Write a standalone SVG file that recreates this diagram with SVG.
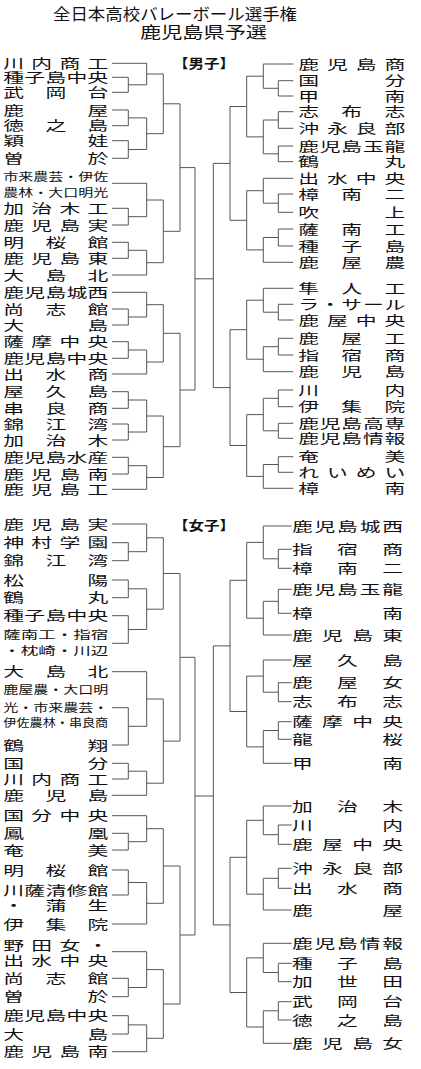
<svg xmlns="http://www.w3.org/2000/svg" width="421" height="1069" viewBox="0 0 421 1069">
<style>
.t{font-family:"Noto Sans CJK JP","Noto Sans CJK SC",sans-serif;font-size:13px;fill:#111}
.s{font-size:11px}
.s2{font-size:11.5px}
.h{font-family:"Noto Sans CJK JP","Noto Sans CJK SC",sans-serif;fill:#111}
.b{font-weight:700;font-size:13px}
.c path{fill:none;stroke:#555;stroke-width:1}
</style>
<rect width="421" height="1069" fill="#fff"/>
<g id="title">
<text class="h" x="53" y="19.5" font-size="16" textLength="244" lengthAdjust="spacingAndGlyphs">全日本高校バレーボール選手権</text>
<text class="h" x="140" y="37.5" font-size="16" textLength="127" lengthAdjust="spacingAndGlyphs">鹿児島県予選</text>
</g>
<g id="label-boys"><text class="h b" x="173" y="68" textLength="62" lengthAdjust="spacingAndGlyphs">【男子】</text></g>
<g id="label-girls"><text class="h b" x="173" y="529.5" textLength="62" lengthAdjust="spacingAndGlyphs">【女子】</text></g>

<g class="c" id="connectors">
<path d="M112,63.3H146.7 M112,77.3H128.3V92.3H112 M128.3,84.8H146.7 M146.7,63.3V84.8 M146.7,74H163.3"/>
<path d="M112,110H128.3V125.7H112 M128.3,117.9H146.7 M112,140.7H128.3V158.3H112 M128.3,149.5H146.7 M146.7,117.9V149.5 M146.7,133.7H163.3 M163.3,74V133.7 M163.3,103.8H180"/>
<path d="M112,183.3H146.7 M112,208.3H128.3V225H112 M128.3,216.7H146.7 M146.7,183.3V216.7 M146.7,200H163.3"/>
<path d="M112,242.3H128.3V258.3H112 M128.3,250.3H146.7 M112,275H146.7 M146.7,250.3V275 M146.7,262.7H163.3 M163.3,200V262.7 M163.3,231.3H180 M180,103.8V231.3 M180,167.6H195"/>
<path d="M112,292.3H146.7 M112,309H128.3V325H112 M128.3,317H146.7 M146.7,292.3V317 M146.7,304.7H163.3"/>
<path d="M112,341.7H128.3V358.3H112 M128.3,350H146.7 M112,374H146.7 M146.7,350V374 M146.7,362H163.3 M163.3,304.7V362 M163.3,333.3H180"/>
<path d="M112,391.7H128.3V408.3H112 M128.3,400H146.7 M112,424H128.3V440H112 M128.3,432H146.7 M146.7,400V432 M146.7,416H163.3"/>
<path d="M112,457.3H128.3V474H112 M128.3,465.7H146.7 M112,489.3H146.7 M146.7,465.7V489.3 M146.7,477.5H163.3 M163.3,416V477.5 M163.3,446.7H180 M180,333.3V446.7 M180,390H195"/>
<path d="M195,167.6V390 M195,278.8H213.3"/>

<path d="M293.3,64H263.3 M293.3,80.7H278.3V96H293.3 M278.3,88.3H263.3 M263.3,64V88.3 M263.3,76.2H246.7"/>
<path d="M293.3,111.7H278.3V128.3H293.3 M278.3,120H263.3 M293.3,146H278.3V161.7H293.3 M278.3,153.8H263.3 M263.3,120V153.8 M263.3,136.9H246.7 M246.7,76.2V136.9 M246.7,106.5H230"/>
<path d="M293.3,178.3H263.3 M293.3,194H278.3V212.3H293.3 M278.3,203.2H263.3 M263.3,178.3V203.2 M263.3,190.7H246.7"/>
<path d="M293.3,229H278.3V246H293.3 M278.3,237.5H263.3 M293.3,262.3H263.3 M263.3,237.5V262.3 M263.3,249.9H246.7 M246.7,190.7V249.9 M246.7,220.3H230 M230,106.5V220.3 M230,163.4H213.3"/>
<path d="M293.3,288.3H263.3 M293.3,304.3H278.3V320H293.3 M278.3,312.2H263.3 M263.3,288.3V312.2 M263.3,300.2H246.7"/>
<path d="M293.3,338.3H278.3V355H293.3 M278.3,346.7H263.3 M293.3,371.7H263.3 M263.3,346.7V371.7 M263.3,359.2H246.7 M246.7,300.2V359.2 M246.7,329.7H230"/>
<path d="M293.3,390H278.3V406.7H293.3 M278.3,398.3H263.3 M293.3,423.3H278.3V438.3H293.3 M278.3,430.8H263.3 M263.3,398.3V430.8 M263.3,414.6H246.7"/>
<path d="M293.3,456.7H278.3V472.3H293.3 M278.3,464.5H263.3 M293.3,488.3H263.3 M263.3,464.5V488.3 M263.3,476.4H246.7 M246.7,414.6V476.4 M246.7,445.5H230 M230,329.7V445.5 M230,387.6H213.3"/>
<path d="M213.3,163.4V387.6"/>

<path d="M112,524H146.7 M112,542.7H128.3V560.7H112 M128.3,551.7H146.7 M146.7,524V551.7 M146.7,537.8H163.3"/>
<path d="M112,580H128.3V597.7H112 M128.3,588.8H146.7 M112,615.7H128.3V643.3H112 M128.3,629.5H146.7 M146.7,588.8V629.5 M146.7,609.2H163.3 M163.3,537.8V609.2 M163.3,573.5H180"/>
<path d="M112,671.7H146.7 M112,707.7H128.3V745H112 M128.3,726.3H146.7 M146.7,671.7V726.3 M146.7,699H163.3"/>
<path d="M112,763.3H128.3V779H112 M128.3,771.2H146.7 M112,795.3H146.7 M146.7,771.2V795.3 M146.7,783.2H163.3 M163.3,699V783.2 M163.3,741.1H180 M180,573.5V741.1 M180,657.3H195"/>
<path d="M112,815.7H146.7 M112,833.3H128.3V850H112 M128.3,841.7H146.7 M146.7,815.7V841.7 M146.7,828.7H163.3"/>
<path d="M112,870H128.3V895H112 M128.3,882.5H146.7 M112,924H146.7 M146.7,882.5V924 M146.7,903.3H163.3 M163.3,828.7V903.3 M163.3,866H180"/>
<path d="M112,951.7H146.7 M112,978.3H128.3V996.7H112 M128.3,987.5H146.7 M146.7,951.7V987.5 M146.7,969.6H163.3"/>
<path d="M112,1015.7H128.3V1034H112 M128.3,1024.9H146.7 M112,1051.7H146.7 M146.7,1024.9V1051.7 M146.7,1038.3H163.3 M163.3,969.6V1038.3 M163.3,1004H180 M180,866V1004 M180,935H195"/>
<path d="M195,657.3V935 M195,796H213.3"/>

<path d="M291.7,526H263.3 M291.7,549.3H278.3V568.3H291.7 M278.3,558.8H263.3 M263.3,526V558.8 M263.3,542.4H246.7"/>
<path d="M291.7,589.3H278.3V613.3H291.7 M278.3,601.3H263.3 M291.7,635H263.3 M263.3,601.3V635 M263.3,618.2H246.7 M246.7,542.4V618.2 M246.7,580.3H230"/>
<path d="M291.7,660H263.3 M291.7,682.7H278.3V701.7H291.7 M278.3,692.2H263.3 M263.3,660V692.2 M263.3,676.1H246.7"/>
<path d="M291.7,721.7H278.3V739.3H291.7 M278.3,730.5H263.3 M291.7,763.3H263.3 M263.3,730.5V763.3 M263.3,746.9H246.7 M246.7,676.1V746.9 M246.7,711.5H230 M230,580.3V711.5 M230,645.9H213.3"/>
<path d="M291.7,806H263.3 M291.7,825H278.3V844.3H291.7 M278.3,834.7H263.3 M263.3,806V834.7 M263.3,820.3H246.7"/>
<path d="M291.7,868.3H278.3V888.3H291.7 M278.3,878.3H263.3 M291.7,910H263.3 M263.3,878.3V910 M263.3,894.2H246.7 M246.7,820.3V894.2 M246.7,857.3H230"/>
<path d="M291.7,943.3H263.3 M291.7,963.3H278.3V981.7H291.7 M278.3,972.5H263.3 M263.3,943.3V972.5 M263.3,957.9H246.7"/>
<path d="M291.7,1001.7H278.3V1020H291.7 M278.3,1010.8H263.3 M291.7,1043.3H263.3 M263.3,1010.8V1043.3 M263.3,1027H246.7 M246.7,957.9V1027 M246.7,992.5H230 M230,857.3V992.5 M230,924.9H213.3"/>
<path d="M213.3,645.9V924.9"/>
</g>

<g id="boys-left" transform="scale(1.6,1)">
<g id="bl01"><text class="t" x="2.06" y="68" textLength="65.6" lengthAdjust="spacing">川内商工</text></g>
<g id="bl02"><text class="t" x="2.06" y="82" textLength="65.6" lengthAdjust="spacing">種子島中央</text></g>
<g id="bl03"><text class="t" x="2.06" y="97" textLength="65.6" lengthAdjust="spacing">武岡台</text></g>
<g id="bl04"><text class="t" x="2.06" y="114.7" textLength="65.6" lengthAdjust="spacing">鹿屋</text></g>
<g id="bl05"><text class="t" x="2.06" y="130.4" textLength="65.6" lengthAdjust="spacing">徳之島</text></g>
<g id="bl06"><text class="t" x="2.06" y="145.4" textLength="65.6" lengthAdjust="spacing">穎娃</text></g>
<g id="bl07"><text class="t" x="2.06" y="163" textLength="65.6" lengthAdjust="spacing">曽於</text></g>
<g id="bl08"><text class="t s" x="2.06" y="180.6" textLength="65.6" lengthAdjust="spacingAndGlyphs">市来農芸・伊佐</text><text class="t s" x="2.06" y="196.6" textLength="65.6" lengthAdjust="spacingAndGlyphs">農林・大口明光</text></g>
<g id="bl09"><text class="t" x="2.06" y="213" textLength="65.6" lengthAdjust="spacing">加治木工</text></g>
<g id="bl10"><text class="t" x="2.06" y="229.7" textLength="65.6" lengthAdjust="spacing">鹿児島実</text></g>
<g id="bl11"><text class="t" x="2.06" y="247" textLength="65.6" lengthAdjust="spacing">明桜館</text></g>
<g id="bl12"><text class="t" x="2.06" y="263" textLength="65.6" lengthAdjust="spacing">鹿児島東</text></g>
<g id="bl13"><text class="t" x="2.06" y="279.7" textLength="65.6" lengthAdjust="spacing">大島北</text></g>
<g id="bl14"><text class="t" x="2.06" y="297" textLength="65.6" lengthAdjust="spacing">鹿児島城西</text></g>
<g id="bl15"><text class="t" x="2.06" y="313.7" textLength="65.6" lengthAdjust="spacing">尚志館</text></g>
<g id="bl16"><text class="t" x="2.06" y="329.7" textLength="65.6" lengthAdjust="spacing">大島</text></g>
<g id="bl17"><text class="t" x="2.06" y="346.4" textLength="65.6" lengthAdjust="spacing">薩摩中央</text></g>
<g id="bl18"><text class="t" x="2.06" y="363" textLength="65.6" lengthAdjust="spacing">鹿児島中央</text></g>
<g id="bl19"><text class="t" x="2.06" y="378.7" textLength="65.6" lengthAdjust="spacing">出水商</text></g>
<g id="bl20"><text class="t" x="2.06" y="396.4" textLength="65.6" lengthAdjust="spacing">屋久島</text></g>
<g id="bl21"><text class="t" x="2.06" y="413" textLength="65.6" lengthAdjust="spacing">串良商</text></g>
<g id="bl22"><text class="t" x="2.06" y="428.7" textLength="65.6" lengthAdjust="spacing">錦江湾</text></g>
<g id="bl23"><text class="t" x="2.06" y="444.7" textLength="65.6" lengthAdjust="spacing">加治木</text></g>
<g id="bl24"><text class="t" x="2.06" y="462" textLength="65.6" lengthAdjust="spacing">鹿児島水産</text></g>
<g id="bl25"><text class="t" x="2.06" y="478.7" textLength="65.6" lengthAdjust="spacing">鹿児島南</text></g>
<g id="bl26"><text class="t" x="2.06" y="494" textLength="65.6" lengthAdjust="spacing">鹿児島工</text></g>
</g>

<g id="boys-right" transform="scale(1.6,1)">
<g id="br01"><text class="t" x="186.4" y="68.7" textLength="66.9" lengthAdjust="spacing">鹿児島商</text></g>
<g id="br02"><text class="t" x="186.4" y="85.4" textLength="66.9" lengthAdjust="spacing">国分</text></g>
<g id="br03"><text class="t" x="186.4" y="100.7" textLength="66.9" lengthAdjust="spacing">甲南</text></g>
<g id="br04"><text class="t" x="186.4" y="116.4" textLength="66.9" lengthAdjust="spacing">志布志</text></g>
<g id="br05"><text class="t" x="186.4" y="133" textLength="66.9" lengthAdjust="spacing">沖永良部</text></g>
<g id="br06"><text class="t" x="186.4" y="150.7" textLength="66.9" lengthAdjust="spacing">鹿児島玉龍</text></g>
<g id="br07"><text class="t" x="186.4" y="166.4" textLength="66.9" lengthAdjust="spacing">鶴丸</text></g>
<g id="br08"><text class="t" x="186.4" y="183" textLength="66.9" lengthAdjust="spacing">出水中央</text></g>
<g id="br09"><text class="t" x="186.4" y="198.7" textLength="66.9" lengthAdjust="spacing">樟南二</text></g>
<g id="br10"><text class="t" x="186.4" y="217" textLength="66.9" lengthAdjust="spacing">吹上</text></g>
<g id="br11"><text class="t" x="186.4" y="233.7" textLength="66.9" lengthAdjust="spacing">薩南工</text></g>
<g id="br12"><text class="t" x="186.4" y="250.7" textLength="66.9" lengthAdjust="spacing">種子島</text></g>
<g id="br13"><text class="t" x="186.4" y="267" textLength="66.9" lengthAdjust="spacing">鹿屋農</text></g>
<g id="br14"><text class="t" x="186.4" y="293" textLength="66.9" lengthAdjust="spacing">隼人工</text></g>
<g id="br15"><text class="t" x="186.4" y="309" textLength="66.9" lengthAdjust="spacing">ラ・サール</text></g>
<g id="br16"><text class="t" x="186.4" y="324.7" textLength="66.9" lengthAdjust="spacing">鹿屋中央</text></g>
<g id="br17"><text class="t" x="186.4" y="343" textLength="66.9" lengthAdjust="spacing">鹿屋工</text></g>
<g id="br18"><text class="t" x="186.4" y="359.7" textLength="66.9" lengthAdjust="spacing">指宿商</text></g>
<g id="br19"><text class="t" x="186.4" y="376.4" textLength="66.9" lengthAdjust="spacing">鹿児島</text></g>
<g id="br20"><text class="t" x="186.4" y="394.7" textLength="66.9" lengthAdjust="spacing">川内</text></g>
<g id="br21"><text class="t" x="186.4" y="411.4" textLength="66.9" lengthAdjust="spacing">伊集院</text></g>
<g id="br22"><text class="t" x="186.4" y="428" textLength="66.9" lengthAdjust="spacing">鹿児島高専</text></g>
<g id="br23"><text class="t" x="186.4" y="443" textLength="66.9" lengthAdjust="spacing">鹿児島情報</text></g>
<g id="br24"><text class="t" x="186.4" y="461.4" textLength="66.9" lengthAdjust="spacing">奄美</text></g>
<g id="br25"><text class="t" x="186.4" y="477" textLength="66.9" lengthAdjust="spacing">れいめい</text></g>
<g id="br26"><text class="t" x="186.4" y="493" textLength="66.9" lengthAdjust="spacing">樟南</text></g>
</g>

<g id="girls-left" transform="scale(1.6,1)">
<g id="gl01"><text class="t" x="2.06" y="528.7" textLength="65.6" lengthAdjust="spacing">鹿児島実</text></g>
<g id="gl02"><text class="t" x="2.06" y="547.4" textLength="65.6" lengthAdjust="spacing">神村学園</text></g>
<g id="gl03"><text class="t" x="2.06" y="565.4" textLength="65.6" lengthAdjust="spacing">錦江湾</text></g>
<g id="gl04"><text class="t" x="2.06" y="584.7" textLength="65.6" lengthAdjust="spacing">松陽</text></g>
<g id="gl05"><text class="t" x="2.06" y="602.4" textLength="65.6" lengthAdjust="spacing">鶴丸</text></g>
<g id="gl06"><text class="t" x="2.06" y="620.4" textLength="65.6" lengthAdjust="spacing">種子島中央</text></g>
<g id="gl07"><text class="t s2" x="2.06" y="639.2" textLength="65.6" lengthAdjust="spacingAndGlyphs">薩南工・指宿</text><text class="t s2" x="2.06" y="655" textLength="65.6" lengthAdjust="spacingAndGlyphs">・枕崎・川辺</text></g>
<g id="gl08"><text class="t" x="2.06" y="676.4" textLength="65.6" lengthAdjust="spacing">大島北</text></g>
<g id="gl09"><text class="t s2" x="2.06" y="694.2" textLength="65.6" lengthAdjust="spacingAndGlyphs">鹿屋農・大口明</text><text class="t s2" x="2.06" y="711.9" textLength="65.6" lengthAdjust="spacingAndGlyphs">光・市来農芸・</text><text class="t s2" x="2.06" y="727.5" textLength="65.6" lengthAdjust="spacingAndGlyphs">伊佐農林・串良商</text></g>
<g id="gl10"><text class="t" x="2.06" y="749.7" textLength="65.6" lengthAdjust="spacing">鶴翔</text></g>
<g id="gl11"><text class="t" x="2.06" y="768" textLength="65.6" lengthAdjust="spacing">国分</text></g>
<g id="gl12"><text class="t" x="2.06" y="783.7" textLength="65.6" lengthAdjust="spacing">川内商工</text></g>
<g id="gl13"><text class="t" x="2.06" y="800" textLength="65.6" lengthAdjust="spacing">鹿児島</text></g>
<g id="gl14"><text class="t" x="2.06" y="820.4" textLength="65.6" lengthAdjust="spacing">国分中央</text></g>
<g id="gl15"><text class="t" x="2.06" y="838" textLength="65.6" lengthAdjust="spacing">鳳凰</text></g>
<g id="gl16"><text class="t" x="2.06" y="854.7" textLength="65.6" lengthAdjust="spacing">奄美</text></g>
<g id="gl17"><text class="t" x="2.06" y="874.7" textLength="65.6" lengthAdjust="spacing">明桜館</text></g>
<g id="gl18"><text class="t" x="2.06" y="895" textLength="65.6" lengthAdjust="spacing">川薩清修館</text><text class="t" x="2.06" y="910" textLength="65.6" lengthAdjust="spacing">・蒲生</text></g>
<g id="gl19"><text class="t" x="2.06" y="928.7" textLength="65.6" lengthAdjust="spacing">伊集院</text></g>
<g id="gl20"><text class="t" x="2.06" y="950" textLength="65.6" lengthAdjust="spacing">野田女・</text><text class="t" x="2.06" y="964.6" textLength="65.6" lengthAdjust="spacing">出水中央</text></g>
<g id="gl21"><text class="t" x="2.06" y="983" textLength="65.6" lengthAdjust="spacing">尚志館</text></g>
<g id="gl22"><text class="t" x="2.06" y="1001.4" textLength="65.6" lengthAdjust="spacing">曽於</text></g>
<g id="gl23"><text class="t" x="2.06" y="1020.4" textLength="65.6" lengthAdjust="spacing">鹿児島中央</text></g>
<g id="gl24"><text class="t" x="2.06" y="1038.7" textLength="65.6" lengthAdjust="spacing">大島</text></g>
<g id="gl25"><text class="t" x="2.06" y="1056.4" textLength="65.6" lengthAdjust="spacing">鹿児島南</text></g>
</g>

<g id="girls-right" transform="scale(1.6,1)">
<g id="gr01"><text class="t" x="182.5" y="530.7" textLength="69.4" lengthAdjust="spacing">鹿児島城西</text></g>
<g id="gr02"><text class="t" x="182.5" y="554" textLength="69.4" lengthAdjust="spacing">指宿商</text></g>
<g id="gr03"><text class="t" x="182.5" y="573" textLength="69.4" lengthAdjust="spacing">樟南二</text></g>
<g id="gr04"><text class="t" x="182.5" y="594" textLength="69.4" lengthAdjust="spacing">鹿児島玉龍</text></g>
<g id="gr05"><text class="t" x="182.5" y="618" textLength="69.4" lengthAdjust="spacing">樟南</text></g>
<g id="gr06"><text class="t" x="182.5" y="639.7" textLength="69.4" lengthAdjust="spacing">鹿児島東</text></g>
<g id="gr07"><text class="t" x="182.5" y="664.7" textLength="69.4" lengthAdjust="spacing">屋久島</text></g>
<g id="gr08"><text class="t" x="182.5" y="687.4" textLength="69.4" lengthAdjust="spacing">鹿屋女</text></g>
<g id="gr09"><text class="t" x="182.5" y="706.4" textLength="69.4" lengthAdjust="spacing">志布志</text></g>
<g id="gr10"><text class="t" x="182.5" y="726.4" textLength="69.4" lengthAdjust="spacing">薩摩中央</text></g>
<g id="gr11"><text class="t" x="182.5" y="744" textLength="69.4" lengthAdjust="spacing">龍桜</text></g>
<g id="gr12"><text class="t" x="182.5" y="768" textLength="69.4" lengthAdjust="spacing">甲南</text></g>
<g id="gr13"><text class="t" x="182.5" y="810.7" textLength="69.4" lengthAdjust="spacing">加治木</text></g>
<g id="gr14"><text class="t" x="182.5" y="829.7" textLength="69.4" lengthAdjust="spacing">川内</text></g>
<g id="gr15"><text class="t" x="182.5" y="849" textLength="69.4" lengthAdjust="spacing">鹿屋中央</text></g>
<g id="gr16"><text class="t" x="182.5" y="873" textLength="69.4" lengthAdjust="spacing">沖永良部</text></g>
<g id="gr17"><text class="t" x="182.5" y="893" textLength="69.4" lengthAdjust="spacing">出水商</text></g>
<g id="gr18"><text class="t" x="182.5" y="914.7" textLength="69.4" lengthAdjust="spacing">鹿屋</text></g>
<g id="gr19"><text class="t" x="182.5" y="948" textLength="69.4" lengthAdjust="spacing">鹿児島情報</text></g>
<g id="gr20"><text class="t" x="182.5" y="968" textLength="69.4" lengthAdjust="spacing">種子島</text></g>
<g id="gr21"><text class="t" x="182.5" y="986.4" textLength="69.4" lengthAdjust="spacing">加世田</text></g>
<g id="gr22"><text class="t" x="182.5" y="1006.4" textLength="69.4" lengthAdjust="spacing">武岡台</text></g>
<g id="gr23"><text class="t" x="182.5" y="1024.7" textLength="69.4" lengthAdjust="spacing">徳之島</text></g>
<g id="gr24"><text class="t" x="182.5" y="1048" textLength="69.4" lengthAdjust="spacing">鹿児島女</text></g>
</g>
</svg>
